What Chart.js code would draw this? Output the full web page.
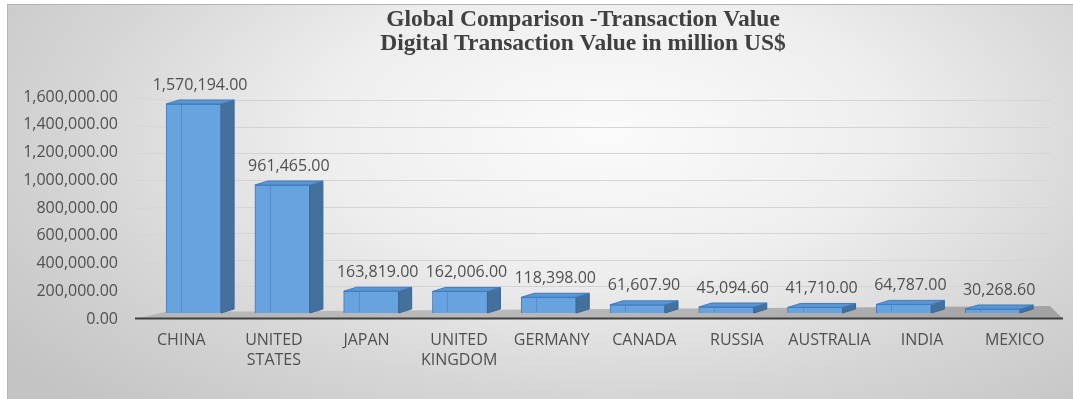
<!DOCTYPE html>
<html>
<head>
<meta charset="utf-8">
<script src="https://cdn.jsdelivr.net/npm/chart.js@4.4.1/dist/chart.umd.min.js"></script>
<style>
  html, body { margin: 0; padding: 0; background: #ffffff; }
  #frame {
    position: absolute; left: 7px; top: 4px; width: 1066px; height: 395px;
    box-sizing: border-box;
    border-top: 1px solid #b4b4b4; border-left: 1px solid #b4b4b4;
    background: radial-gradient(ellipse 70% 95% at 56% 32%, #fbfbfb 0%, #eeeeee 38%, #d6d6d6 70%, #c4c4c4 100%);
  }
  #chart { position: absolute; left: 0; top: 0; }
</style>
</head>
<body>
<div id="frame"></div>
<canvas id="chart" width="1073" height="399"></canvas>
<script>
// Countries on the category axis (multi-line names split into rows)
const categories = [
  ['CHINA'], ['UNITED', 'STATES'], ['JAPAN'], ['UNITED', 'KINGDOM'], ['GERMANY'],
  ['CANADA'], ['RUSSIA'], ['AUSTRALIA'], ['INDIA'], ['MEXICO']
];
// Digital transaction value, million US$
const transactionValues = [
  1570194.00, 961465.00, 163819.00, 162006.00, 118398.00,
  61607.90, 45094.60, 41710.00, 64787.00, 30268.60
];
// Value axis tick positions
const axisTicks = [0, 200000, 400000, 600000, 800000, 1000000, 1200000, 1400000, 1600000];
const titleLines = ['Global Comparison -Transaction Value', 'Digital Transaction Value in million US$'];

function fmt(v) {
  const parts = v.toFixed(2).split('.');
  return parts[0].replace(/\B(?=(\d{3})+(?!\d))/g, ',') + '.' + parts[1];
}

const TEXT = '#505050';
const FONT = '"Open Sans", "DejaVu Sans", sans-serif';
const depth = { dx: 13, dy: 4 };

// Back-plane mapping: bars and wall grid sit slightly behind the front axis
const plotHeight = 222;
const liftAtZero = 6, dropAtTop = 3;
const backRange = 1600000 * plotHeight / (plotHeight - liftAtZero - dropAtTop);
const backMin = -liftAtZero * backRange / plotHeight;

const scene3d = {
  id: 'scene3d',
  beforeDatasetsDraw(chart) {
    const { ctx, chartArea: a, scales } = chart;
    const yF = scales.y, yB = scales.yb;
    ctx.save();
    // grid on the back wall, joined to the front axis through the side wall
    ctx.strokeStyle = '#d4d4d4';
    ctx.lineWidth = 1;
    axisTicks.forEach(v => {
      if (v === 0) return;
      const f = Math.round(yF.getPixelForValue(v)) + 0.5;
      const b = Math.round(yB.getPixelForValue(v)) + 0.5;
      ctx.beginPath();
      ctx.moveTo(a.left, f);
      ctx.lineTo(a.left + 30, b);
      ctx.lineTo(a.right - 11, b);
      ctx.stroke();
    });
    // floor
    const y0 = yF.getPixelForValue(0);
    const yb0 = yB.getPixelForValue(0);
    const g = ctx.createLinearGradient(a.left, 0, a.right, 0);
    g.addColorStop(0, 'rgba(150,150,150,0.45)');
    g.addColorStop(1, 'rgba(130,130,130,0.6)');
    ctx.fillStyle = g;
    ctx.beginPath();
    ctx.moveTo(a.left, y0);
    ctx.lineTo(a.right + 2, y0);
    ctx.lineTo(a.right - 11, yb0 - 7);
    ctx.lineTo(a.left + 30, yb0 - 1);
    ctx.closePath();
    ctx.fill();
    // category axis line
    ctx.strokeStyle = '#404040';
    ctx.lineWidth = 2;
    ctx.beginPath();
    ctx.moveTo(a.left, y0 - 0.5);
    ctx.lineTo(a.right + 2, y0 - 0.5);
    ctx.stroke();
    ctx.restore();
  },
  afterDatasetsDraw(chart) {
    const { ctx } = chart;
    const meta = chart.getDatasetMeta(0);
    ctx.save();
    meta.data.forEach((bar, i) => {
      const { x, y, base, width } = bar.getProps(['x', 'y', 'base', 'width'], true);
      const L = x - width / 2, R = x + width / 2;
      // right side face
      ctx.fillStyle = '#44719c';
      ctx.strokeStyle = '#3b6690';
      ctx.lineWidth = 1;
      ctx.beginPath();
      ctx.moveTo(R, y);
      ctx.lineTo(R + depth.dx, y - depth.dy);
      ctx.lineTo(R + depth.dx, base - depth.dy);
      ctx.lineTo(R, base);
      ctx.closePath();
      ctx.fill();
      ctx.stroke();
      // top face
      ctx.fillStyle = '#5b96d2';
      ctx.strokeStyle = '#3f7bbf';
      ctx.beginPath();
      ctx.moveTo(L, y);
      ctx.lineTo(L + depth.dx, y - depth.dy);
      ctx.lineTo(R + depth.dx, y - depth.dy);
      ctx.lineTo(R, y);
      ctx.closePath();
      ctx.fill();
      ctx.stroke();
      // bevel line on the front face
      if (base - y > 4) {
        ctx.strokeStyle = 'rgba(60,115,180,0.45)';
        ctx.beginPath();
        ctx.moveTo(Math.round(L + 15) + 0.5, y + 1);
        ctx.lineTo(Math.round(L + 15) + 0.5, base - 1);
        ctx.stroke();
      }
      // value label
      ctx.fillStyle = TEXT;
      ctx.font = '16px ' + FONT;
      ctx.textAlign = 'center';
      ctx.textBaseline = 'middle';
      ctx.fillText(fmt(transactionValues[i]), x + depth.dx / 2, y - 19);
    });
    ctx.restore();
  },
  afterDraw(chart) {
    const { ctx } = chart;
    ctx.save();
    ctx.fillStyle = '#404040';
    ctx.font = 'bold 23.5px "Liberation Serif", "Times New Roman", serif';
    ctx.textAlign = 'center';
    ctx.textBaseline = 'middle';
    ctx.fillText(titleLines[0], 583, 20);
    ctx.fillText(titleLines[1], 583, 44);
    ctx.restore();
  }
};

new Chart(document.getElementById('chart'), {
  type: 'bar',
  data: {
    labels: categories,
    datasets: [{
      data: transactionValues.map((v, i) => ({ x: i, y: v })),
      xAxisID: 'xb',
      yAxisID: 'yb',
      backgroundColor: '#67a3de',
      borderColor: '#3f7bbf',
      borderWidth: 1,
      barThickness: 55,
      clip: false
    }]
  },
  options: {
    responsive: false,
    devicePixelRatio: 1,
    animation: false,
    events: [],
    layout: { padding: { left: 25, right: 12, top: 97, bottom: 20 } },
    plugins: { legend: { display: false }, tooltip: { enabled: false }, title: { display: false } },
    scales: {
      x: {
        type: 'category',
        position: 'bottom',
        offset: true,
        grid: { display: false, drawTicks: false },
        border: { display: false },
        ticks: { color: TEXT, font: { family: FONT, size: 16, lineHeight: 1.25 }, padding: 11, maxRotation: 0, autoSkip: false },
        afterFit: s => { s.height = 60; }
      },
      xb: {
        type: 'linear',
        display: false,
        offset: false,
        grid: { offset: false },
        min: -0.66,
        max: 9.77,
        ticks: { stepSize: 1, includeBounds: false }
      },
      y: {
        type: 'linear',
        position: 'left',
        min: 0,
        max: 1600000,
        grid: { display: false, drawTicks: false },
        border: { display: false },
        afterBuildTicks: s => { s.ticks = axisTicks.map(v => ({ value: v })); },
        ticks: { color: TEXT, font: { family: FONT, size: 16 }, padding: 17, callback: v => fmt(v) },
        afterFit: s => { s.width = 110; }
      },
      yb: {
        type: 'linear',
        display: false,
        min: backMin,
        max: backMin + backRange
      }
    }
  },
  plugins: [scene3d]
});
</script>
</body>
</html>
